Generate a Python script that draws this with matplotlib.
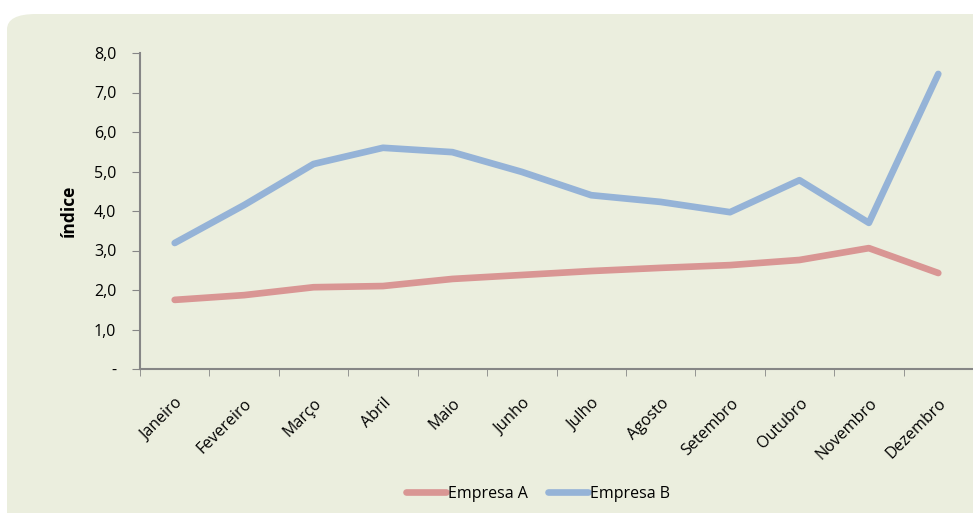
import matplotlib
matplotlib.use("Agg")
import matplotlib.pyplot as plt
from matplotlib.patches import FancyBboxPatch
from matplotlib.ticker import FixedLocator, NullFormatter
import numpy as np

plt.rcParams['font.family'] = ['Open Sans', 'DejaVu Sans']

# data
meses = ['Janeiro', 'Fevereiro', 'Março', 'Abril', 'Maio', 'Junho',
         'Julho', 'Agosto', 'Setembro', 'Outubro', 'Novembro', 'Dezembro']
empresa_a = [1.75, 1.87, 2.07, 2.10, 2.28, 2.38, 2.48, 2.56, 2.63, 2.76, 3.06, 2.43]
empresa_b = [3.19, 4.15, 5.19, 5.60, 5.49, 4.99, 4.40, 4.23, 3.97, 4.78, 3.70, 7.47]
y_ticks = [0, 1, 2, 3, 4, 5, 6, 7, 8]

bg = '#EBEEDE'
axis_gray = '#868686'

fig = plt.figure(figsize=(9.73, 5.13), dpi=100)
fig.patch.set_facecolor('white')

# rounded panel behind the chart
panel = FancyBboxPatch((7 / 973, 0 - 0.05), 1.05, (513 - 14) / 513 + 0.05,
                       boxstyle='round,pad=0,rounding_size=0.03',
                       transform=fig.transFigure, facecolor=bg,
                       edgecolor='none', zorder=-10)
fig.patches.append(panel)

ax = fig.add_axes([140 / 973, 1 - 369 / 513, 833 / 973, (369 - 53) / 513])
ax.set_facecolor('none')
ax.set_zorder(1)

x = np.arange(len(meses))
ax.plot(x, empresa_a, color='#D99694', lw=4.8, solid_capstyle='round',
        solid_joinstyle='round', label='Empresa A')
ax.plot(x, empresa_b, color='#95B3D7', lw=4.8, solid_capstyle='round',
        solid_joinstyle='round', label='Empresa B')

ax.set_xlim(-0.5, len(meses) - 0.5)
ax.set_ylim(0, 8)

ax.set_yticks(y_ticks)
ax.set_yticklabels(['-' if v == 0 else f'{v:.1f}'.replace('.', ',') for v in y_ticks],
                   fontsize=11.5)
ax.tick_params(axis='y', length=6, color=axis_gray, pad=11)

ax.set_xticks(x)
ax.set_xticklabels(meses, rotation=45, ha='right', rotation_mode='anchor', fontsize=11.5)
ax.tick_params(axis='x', which='major', length=0, pad=19)
ax.xaxis.set_minor_locator(FixedLocator(np.arange(-0.5, len(meses), 1.0)))
ax.xaxis.set_minor_formatter(NullFormatter())
ax.tick_params(axis='x', which='minor', length=5, color=axis_gray)

for s in ['top', 'right']:
    ax.spines[s].set_visible(False)
for s in ['left', 'bottom']:
    ax.spines[s].set_color(axis_gray)
    ax.spines[s].set_linewidth(1.5)

ax.set_ylabel('índice', fontsize=12.5, fontweight='bold', labelpad=12)

leg = fig.legend(loc='center', bbox_to_anchor=(538 / 973, 1 - 494 / 513), ncol=2,
                 frameon=False, fontsize=11.5, handlelength=2.5, handletextpad=0.1,
                 columnspacing=1.3)

fig.savefig('out.png', dpi=100, facecolor='white')
